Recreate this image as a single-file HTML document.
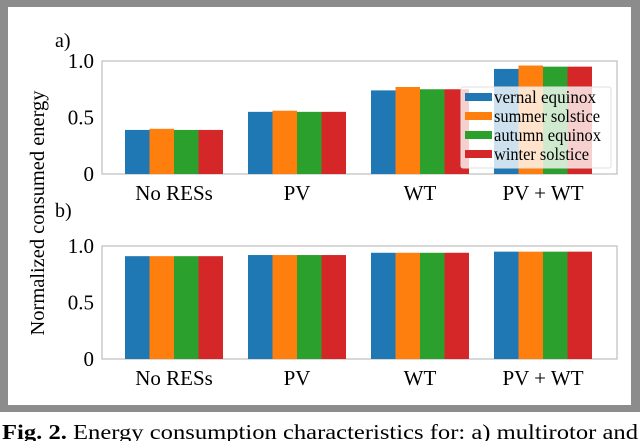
<!DOCTYPE html>
<html><head><meta charset="utf-8"><style>
body{margin:0;background:#fff;width:640px;height:441px;overflow:hidden;font-family:"Liberation Serif",serif}
svg text{font-family:"Liberation Serif",serif}
</style></head><body>
<svg id="chart" width="640" height="441" xmlns="http://www.w3.org/2000/svg">
<rect x="0" y="0" width="640" height="412" fill="#8c8c8c"/>
<rect x="8" y="7" width="623" height="398" fill="#fff"/>
<text x="55" y="47" font-size="20">a)</text>
<text x="55" y="217" font-size="20">b)</text>
<text transform="translate(44,213) rotate(-90)" text-anchor="middle" font-size="20" textLength="245" lengthAdjust="spacingAndGlyphs">Normalized consumed energy</text>
<g id="pa"></g><g id="pb"></g>
<g id="legend"></g>
<text x="2" y="439" font-size="21" textLength="636" lengthAdjust="spacingAndGlyphs"><tspan font-weight="bold">Fig. 2.</tspan> Energy consumption characteristics for: a) multirotor and</text>
</svg>
<script>
const categories=["No RESs","PV","WT","PV + WT"];
const seriesNames=["vernal equinox","summer solstice","autumn equinox","winter solstice"];
const colors=["#1f77b4","#ff7f0e","#2ca02c","#d62728"];
const valuesA=[[0.39,0.55,0.74,0.93],[0.40,0.56,0.77,0.96],[0.39,0.55,0.75,0.95],[0.39,0.55,0.75,0.95]];
const valuesB=[[0.91,0.92,0.94,0.95],[0.91,0.92,0.94,0.95],[0.91,0.92,0.94,0.95],[0.91,0.92,0.94,0.95]];
const yTicks=[0,0.5,1.0];
const yTickLabels=["0","0.5","1.0"];
const NS="http://www.w3.org/2000/svg";
function mk(p,t,a){const e=document.createElementNS(NS,t);for(const k in a)e.setAttribute(k,a[k]);p.appendChild(e);return e;}
function panel(g,vals,top,bottom,tag){
  const L=102,R=617;
  const y=v=>bottom-(bottom-top)*v;
  const step=123,first=174;
  const x=i=>first+i*step;
  const bw=24.5;
  const fr=mk(g,'rect',{x:L,y:top,width:R-L,height:bottom-top,fill:'none',stroke:'#bdbdbd','stroke-width':1.2});
  
  
  yTicks.forEach((t,i)=>{
    const tx=mk(g,'text',{x:L-8,y:y(t)+7,'text-anchor':'end','font-size':21});
    tx.textContent=yTickLabels[i];
    
    
  });
  categories.forEach((c,i)=>{
    vals.forEach((s,j)=>{
      const bx=x(i)-2*bw+j*bw;
      const r=mk(g,'rect',{x:bx,y:y(s[i]),width:bw,height:bottom-y(s[i]),fill:colors[j]});
      
      
    });
    const tx=mk(g,'text',{x:x(i),y:bottom+26,'text-anchor':'middle','font-size':21});
    tx.textContent=c;
    
    
  });
}
panel(document.getElementById('pa'),valuesA,61,174,'top');
panel(document.getElementById('pb'),valuesB,246,359,'bottom');
const lg=document.getElementById('legend');
const lb=mk(lg,'rect',{x:461,y:87,width:150,height:81,fill:'#fff','fill-opacity':0.78,stroke:'#e0e0e0',rx:2});


const legendTextLen=[102,106,107,95];
seriesNames.forEach((n,j)=>{
  const cy=97+j*19;
  const p=mk(lg,'rect',{x:465,y:cy-4,width:27,height:8,fill:colors[j]});
  
  
  const t=mk(lg,'text',{x:494,y:cy+6,'font-size':18,textLength:legendTextLen[j],lengthAdjust:'spacingAndGlyphs'});
  t.textContent=n;
  
  
});
</script>
</body></html>
